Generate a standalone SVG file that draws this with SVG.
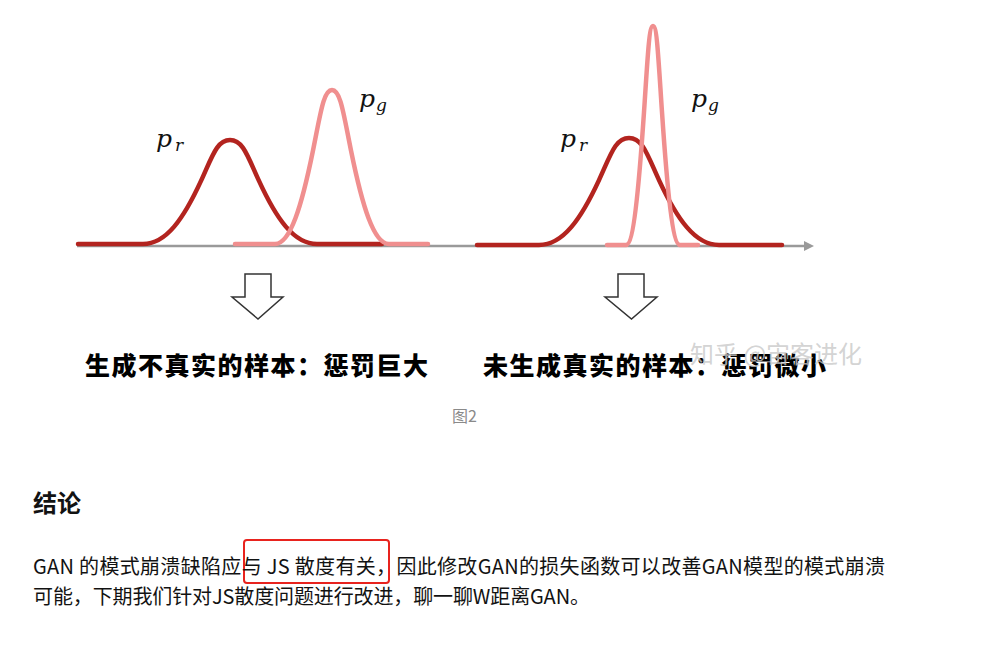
<svg xmlns="http://www.w3.org/2000/svg" width="983" height="651" viewBox="0 0 983 651">
<defs>
<style>
.pr{fill:none;stroke:#b3241f;stroke-width:4.5;stroke-linecap:round;stroke-linejoin:round}
.pg{fill:none;stroke:#f08f8f;stroke-width:4.5;stroke-linecap:round;stroke-linejoin:round}
.axis{stroke:#9a9a9a;stroke-width:2.5}
.blk{fill:#fff;stroke:#333;stroke-width:1.5;stroke-linejoin:miter}
.m{font-family:"DejaVu Serif",serif;font-style:italic;font-size:25px;fill:#111}
.ms{font-family:"DejaVu Serif",serif;font-style:italic;font-size:17px;fill:#111}
.cap{font-family:"Noto Sans CJK SC",sans-serif;font-weight:900;font-size:25px;fill:#000;letter-spacing:1.5px}
.wm{font-family:"Noto Sans CJK SC",sans-serif;font-size:24px;fill:#c8c8c8;fill-opacity:0.8}
.fig{font-family:"Noto Sans CJK SC",sans-serif;font-size:16px;fill:#8a8a8a}
.h{font-family:"Noto Sans CJK SC",sans-serif;font-weight:700;font-size:24px;fill:#121212}
.p{font-family:"Noto Sans CJK SC",sans-serif;font-size:20px;fill:#121212}
</style>
</defs>
<rect width="983" height="651" fill="#fff"/>
<g id="axis">
<line class="axis" x1="77" y1="246" x2="806" y2="246"/>
<polygon points="804,241 814,246 804,251" fill="#9a9a9a"/>
</g>
<g id="left-panel">
<path id="left-pr" class="pr" d="M78,244 L143,244 C166.2,244 183.6,218.7 201,180.9 C212.6,155.6 217,140 230,140 C243,140 247.4,155.6 259,180.9 C276.4,218.7 293.8,244 317,244 L382,244"/>
<path id="left-pg" class="pg" d="M235,244 L275,244 C290.2,244 301.6,206.6 313,150.5 C320.6,113.1 323.5,90 332,90 C340.5,90 343.4,113.1 351,150.5 C362.4,206.6 373.8,244 389,244 L428,244"/>
<text class="m" x="156" y="147">p</text><text class="ms" x="175" y="151">r</text>
<text class="m" x="359" y="107">p</text><text class="ms" x="376" y="111">g</text>
</g>
<g id="right-panel">
<path id="right-pr" class="pr" d="M477,245 L539,245 C563,245 581,219 599,180.1 C611,154 615.5,138 629,138 C642.5,138 647,154 659,180.1 C677,219 695,245 719,245 L782,245"/>
<path id="right-pg" class="pg" d="M607,245 L626,245 C633.2,245 638.6,191.8 644,112.1 C647.6,58.8 649,26 653,26 C657,26 658.4,58.8 662,112.1 C667.4,191.8 672.8,245 680,245 L698,245"/>
<text class="m" x="560" y="147">p</text><text class="ms" x="579" y="151">r</text>
<text class="m" x="691" y="107">p</text><text class="ms" x="708" y="111">g</text>
</g>
<g id="connectors">
<polygon id="arrow-left" class="blk" points="245,274 271,274 271,297 283,297 258,319 232,297 245,297"/>
<polygon id="arrow-right" class="blk" points="618,274 644,274 644,297 657,297 631.5,319 605,297 618,297"/>
</g>
<g id="left-caption"><text class="cap" x="85" y="375">生成不真实的样本：惩罚巨大</text></g>
<g id="right-caption"><text class="cap" x="483" y="375">未生成真实的样本：惩罚微小</text></g>
<g id="watermark"><text class="wm" x="690" y="363">知乎 @宙客进化</text></g>
<g id="figure-label"><text class="fig" x="452" y="422">图2</text></g>
<g id="conclusion">
<text class="h" x="33" y="512">结论</text>
<rect x="244" y="540" width="145" height="43" rx="3" fill="none" stroke="#e8231e" stroke-width="2"/>
<text class="p" x="33" y="574" textLength="852" lengthAdjust="spacing">GAN 的模式崩溃缺陷应与 JS 散度有关，因此修改GAN的损失函数可以改善GAN模型的模式崩溃</text>
<text class="p" x="33" y="604" textLength="557" lengthAdjust="spacing">可能，下期我们针对JS散度问题进行改进，聊一聊W距离GAN。</text>
</g>
</svg>
